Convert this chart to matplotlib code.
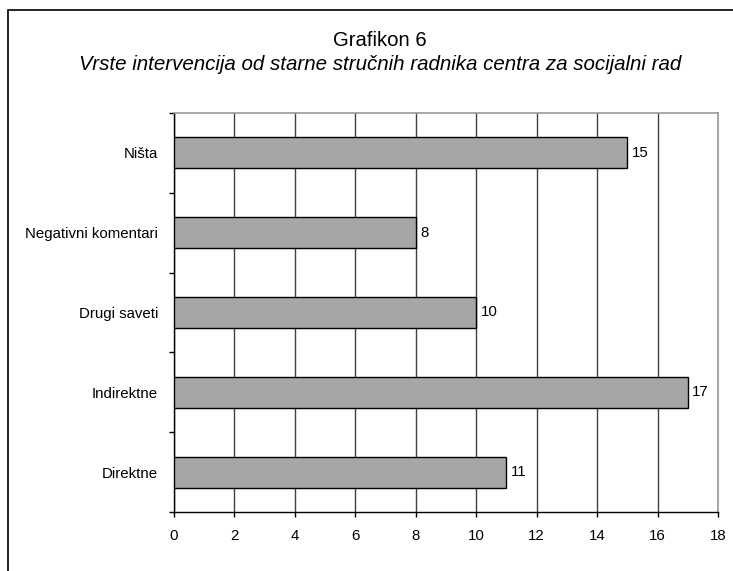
import matplotlib
matplotlib.use("Agg")
import matplotlib.pyplot as plt
from matplotlib.patches import Rectangle

categories = ["Direktne", "Indirektne", "Drugi saveti", "Negativni komentari", "Ništa"]
values = [11, 17, 10, 8, 15]
xticks = [0, 2, 4, 6, 8, 10, 12, 14, 16, 18]
title = "Grafikon 6"
subtitle = "Vrste intervencija od starne stručnih radnika centra za socijalni rad"

plt.rcParams['font.family'] = ['Liberation Sans', 'DejaVu Sans']

fig = plt.figure(figsize=(7.33, 5.71), dpi=100)
W, H = 733, 571
# outer border
fig.patches.append(Rectangle((8 / W, -0.1), 1.2, 1 - 10 / H + 0.1, transform=fig.transFigure,
                             fill=False, edgecolor='black', linewidth=1.2))

ax = fig.add_axes([174 / W, 59 / H, 544 / W, 399 / H])
ypos = list(range(len(categories)))
ax.barh(ypos, values, height=0.39, color='#a6a6a6', edgecolor='black', linewidth=1.0, zorder=3)
for y, v in zip(ypos, values):
    ax.text(v + 0.15, y, str(v), va='center', ha='left', fontsize=10.8, zorder=4)

ax.set_xlim(0, 18)
ax.set_ylim(-0.5, len(categories) - 0.5)
ax.set_xticks(xticks)
ax.set_xticklabels([str(t) for t in xticks], fontsize=10.8)
ax.set_yticks(ypos)
ax.set_yticklabels(categories, fontsize=10.8)
ax.tick_params(axis='y', which='major', length=0, pad=11.5)
ax.set_yticks([i + 0.5 for i in range(-1, len(categories))], minor=True)
ax.tick_params(axis='y', which='minor', length=3.5, direction='out', color='black', width=1)
ax.tick_params(axis='x', length=3.5, direction='out', color='black', width=1, pad=8.5)
ax.xaxis.grid(True, color='#404040', linewidth=1.0, zorder=0)
ax.set_axisbelow(True)
for s in ['top', 'right']:
    ax.spines[s].set_color('#999999')
    ax.spines[s].set_linewidth(1.2)
for s in ['left', 'bottom']:
    ax.spines[s].set_color('black')
    ax.spines[s].set_linewidth(1.0)

fig.text(380 / W, 1 - 46 / H, title, ha='center', va='baseline', fontsize=14.6)
fig.text(380 / W, 1 - 70 / H, subtitle, ha='center', va='baseline', fontsize=14.8, style='italic')

fig.savefig("out.png", dpi=100)
